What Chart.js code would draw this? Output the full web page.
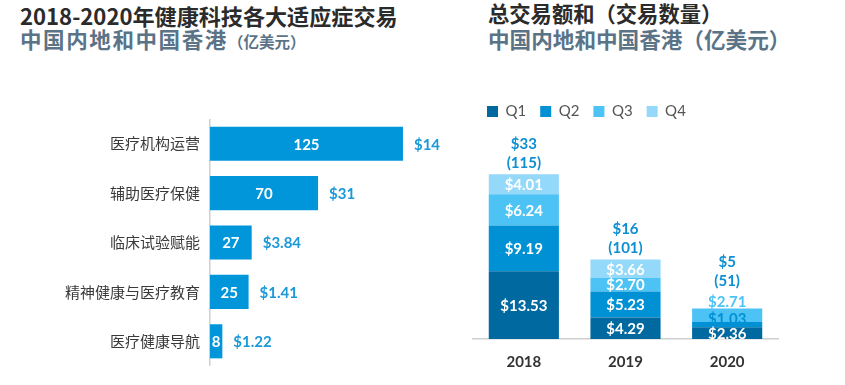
<!DOCTYPE html>
<html>
<head>
<meta charset="utf-8">
<script src="https://cdn.jsdelivr.net/npm/chart.js@4"></script>
<style>
  body { margin: 0; background: #fff; width: 845px; height: 385px; overflow: hidden; position: relative; font-family: "Noto Sans CJK SC", sans-serif; }
  .title { position: absolute; font-weight: bold; color: #2b2b2b; line-height: 26px; white-space: nowrap; }
  .sub { position: absolute; font-weight: bold; color: #5a7387; line-height: 26px; white-space: nowrap; }
</style>
</head>
<body>
<div class="title" style="left:20px; top:2px; font-size:22.1px;">2018-2020年健康科技各大适应症交易</div>
<div class="sub" style="left:20px; top:26px; font-size:21.5px;"><span style="letter-spacing:1.6px;">中国内地和中国香港</span><span style="font-size:15.5px;">（亿美元）</span></div>
<div class="title" style="left:488px; top:0px; font-size:21.3px;">总交易额和（交易数量）</div>
<div class="sub" style="left:488px; top:26px; font-size:21.6px;">中国内地和中国香港（亿美元）</div>

<canvas id="left-chart" width="460" height="247" style="position:absolute; left:0; top:119px;"></canvas>
<canvas id="right-chart" width="385" height="305" style="position:absolute; left:460px; top:80px;"></canvas>

<script>
// left chart: deals by indication
const indications = ['医疗机构运营', '辅助医疗保健', '临床试验赋能', '精神健康与医疗教育', '医疗健康导航'];
const dealCounts = [125, 70, 27, 25, 8];
const dealValues = ['$14', '$31', '$3.84', '$1.41', '$1.22'];

// right chart: quarterly deal value
const years = ['2018', '2019', '2020'];
const q1 = [13.53, 4.29, 2.36];
const q2 = [9.19, 5.23, 1.03];
const q3 = [6.24, 2.70, 2.71];
const q4 = [4.01, 3.66, 0];
const totalValues = ['$33', '$16', '$5'];
const totalDeals = [115, 101, 51];

const numFont = '"Lato", "Open Sans", sans-serif';

const leftLabels = {
  id: 'leftLabels',
  afterDatasetsDraw(chart) {
    const ctx = chart.ctx;
    const meta = chart.getDatasetMeta(0);
    ctx.save();
    ctx.font = 'bold 15px ' + numFont;
    ctx.textBaseline = 'middle';
    meta.data.forEach((bar, i) => {
      ctx.fillStyle = '#fff';
      ctx.textAlign = 'center';
      ctx.fillText(dealCounts[i], (bar.base + bar.x) / 2, bar.y + 1);
      ctx.fillStyle = '#1a98d8';
      ctx.textAlign = 'left';
      ctx.fillText(dealValues[i], bar.x + 11, bar.y + 1);
    });
    ctx.restore();
  }
};

new Chart(document.getElementById('left-chart'), {
  type: 'bar',
  data: {
    labels: indications,
    datasets: [{
      data: dealCounts,
      backgroundColor: '#0096d9',
      categoryPercentage: 1,
      barPercentage: 0.69
    }]
  },
  options: {
    indexAxis: 'y',
    responsive: false,
    animation: false,
    layout: { padding: { right: 3 } },
    plugins: { legend: { display: false }, tooltip: { enabled: false } },
    scales: {
      x: { display: false, min: 0, max: 160 },
      y: {
        grid: { display: false, drawTicks: false, tickLength: 0 },
        border: { display: true, color: '#cfcfcf', width: 1.5 },
        ticks: { padding: 10, color: '#3a3a3a', font: { family: '"Noto Sans CJK SC"', size: 15 } },
        afterFit(scale) {
          scale.width = 210;
          scale.paddingTop = 0;
          scale.paddingBottom = 0;
        }
      }
    }
  },
  plugins: [leftLabels]
});

// segment labels; small segments push their label upwards
const stackLabels = {
  id: 'stackLabels',
  afterDatasetsDraw(chart) {
    const ctx = chart.ctx;
    const sets = chart.data.datasets;
    ctx.save();
    ctx.font = 'bold 15px ' + numFont;
    ctx.textAlign = 'center';
    ctx.textBaseline = 'middle';
    years.forEach((y, i) => {
      let prevY = Infinity;
      let barTop = Infinity;
      let x = 0;
      let topIdx = -1;
      sets.forEach((ds, d) => { if (ds.data[i]) topIdx = d; });
      sets.forEach((ds, d) => {
        const v = ds.data[i];
        if (!v) return;
        const el = chart.getDatasetMeta(d).data[i];
        x = el.x;
        barTop = Math.min(barTop, el.y);
        let ly = (el.y + el.base) / 2;
        if (ly > prevY - 15) {
          ly = prevY - 15;
          if (d === topIdx && ly < el.y + 9) ly = el.y - 7;
        }
        prevY = ly;
        ctx.fillStyle = ly < el.y ? ds.backgroundColor : '#fff';
        ctx.fillText('$' + v.toFixed(2), x, ly + 1);
      });
      const ref = Math.min(barTop, prevY - 9);
      ctx.fillStyle = '#0d8fd2';
      ctx.fillText('(' + totalDeals[i] + ')', x, ref - 11);
      ctx.fillText(totalValues[i], x, ref - 30);
    });
    ctx.restore();
  }
};

new Chart(document.getElementById('right-chart'), {
  type: 'bar',
  data: {
    labels: years,
    datasets: [
      { label: 'Q1', data: q1, backgroundColor: '#00699f' },
      { label: 'Q2', data: q2, backgroundColor: '#0091d5' },
      { label: 'Q3', data: q3, backgroundColor: '#4dc3f5' },
      { label: 'Q4', data: q4, backgroundColor: '#94d9f9' }
    ].map(ds => Object.assign(ds, { categoryPercentage: 1, barPercentage: 0.69 }))
  },
  options: {
    responsive: false,
    animation: false,
    layout: { padding: { left: 13, right: 67, top: 10, bottom: 14 } },
    plugins: {
      tooltip: { enabled: false },
      legend: {
        position: 'top',
        align: 'start',
        labels: {
          boxWidth: 11,
          boxHeight: 11,
          padding: 14,
          color: '#555',
          font: { family: numFont, size: 15 }
        }
      }
    },
    scales: {
      x: {
        stacked: true,
        grid: { display: false, drawTicks: false, tickLength: 0 },
        border: { display: true, color: '#cfcfcf', width: 1.5 },
        ticks: { padding: 14, color: '#333', font: { family: numFont, size: 15, weight: 'bold' } },
        afterFit(scale) {
          scale.height = 32;
          scale.paddingLeft = 0;
          scale.paddingRight = 0;
        }
      },
      y: { stacked: true, display: false, min: 0, max: 42 }
    }
  },
  plugins: [stackLabels]
});
</script>
</body>
</html>
